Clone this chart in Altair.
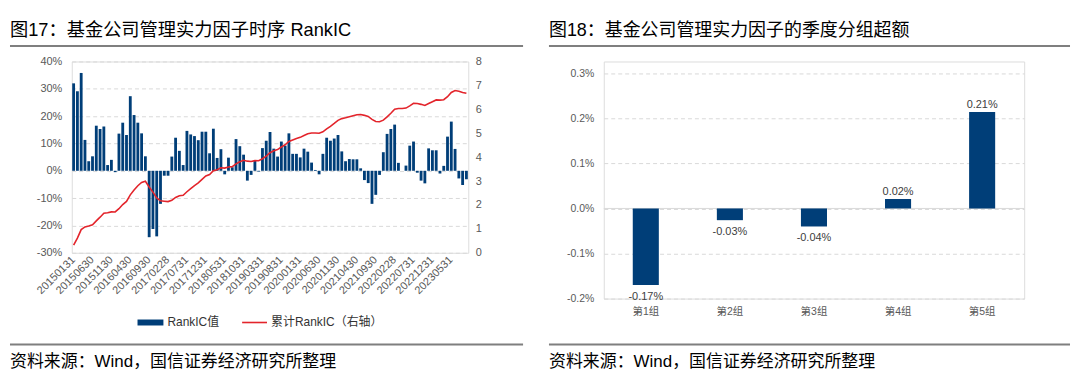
import calendar
import altair as alt
import pandas as pd

# ---------------- data ----------------
months = []
for yy in range(2015, 2024):
    for mm in range(1, 13):
        if (yy, mm) <= (2023, 9):
            months.append(f"{yy}{mm:02d}{calendar.monthrange(yy, mm)[1]:02d}")

rank_ic = [
    32.0, 29.1, 35.8, 11.3, 3.5, 5.3, 16.5, 15.3, 16.2, 2.1, 4.0, -0.5,
    13.6, 17.6, 13.1, 27.3, 20.4, 17.6, 13.7, 5.3, -24.3, -21.3, -24.0, -12.1,
    -1.8, -1.8, 5.2, 12.1, 7.3, 2.1, 14.6, 13.3, 12.7, 11.2, 14.3, 14.3,
    6.4, 15.4, 4.7, 7.9, -1.3, 4.8, 1.3, 11.6, 9.0, 5.9, -3.6, -1.5,
    3.6, -0.3, 8.3, 11.0, 14.2, 8.1, 5.2, 10.7, 9.2, 13.7, 6.2, 6.2,
    4.9, 8.1, 7.0, 3.0, 0.3, -1.3, 6.2, 12.1, 11.0, 11.8, 13.1, 7.1,
    3.5, 4.3, 4.2, 4.2, 0.9, -3.4, -4.5, -12.1, -8.8, -1.5, 6.8, 13.5,
    15.3, 16.9, 2.9, 0.0, 1.9, 9.2, 10.7, -0.7, -3.6, -4.6, 8.2, 7.5,
    7.5, -1.0, 1.8, 12.5, 18.0, 8.0, -2.8, -5.2, -3.1,
]  # percent

groups = ["第1组", "第2组", "第3组", "第4组", "第5组"]
excess = [-0.170, -0.026, -0.040, 0.021, 0.214]  # percent

left_ticks = [-0.3, -0.2, -0.1, 0.0, 0.1, 0.2, 0.3, 0.4]
right_ticks = [0, 1, 2, 3, 4, 5, 6, 7, 8]
grp_ticks = [-0.002, -0.001, 0.0, 0.001, 0.002, 0.003]

title_left = "图17：基金公司管理实力因子时序 RankIC"
title_right = "图18：基金公司管理实力因子的季度分组超额"
source_text = "资料来源：Wind，国信证券经济研究所整理"
legend_bar = "RankIC值"
legend_line = "累计RankIC（右轴）"

# ---------------- style ----------------
BLUE = "#003E78"
RED = "#E3242B"
GRAY = "#595959"
GRID = "#D9D9D9"
RULE = "#7F7F7F"
FONT = "Liberation Sans, Arial, Noto Sans CJK SC, sans-serif"

df1 = pd.DataFrame({"date": months, "ic": rank_ic, "idx": list(range(len(months)))})
df2 = pd.DataFrame({"g": groups, "e": excess})
one = pd.DataFrame({"k": [0]})


def deco_text(txt, x, y, size, color="#000000", baseline="middle"):
    return alt.Chart(one).mark_text(
        text=txt, align="left", baseline=baseline, fontSize=size, font=FONT, color=color
    ).encode(x=alt.value(x), y=alt.value(y))


def deco_rule(x1, x2, y, color, width):
    return alt.Chart(one).mark_rule(color=color, strokeWidth=width).encode(
        x=alt.value(x1), x2=alt.value(x2), y=alt.value(y)
    )


def hy(fmt):
    return f"replace(format(datum.value, '{fmt}'), '\u2212', '-')"


# ---------------- left panel ----------------
W1, H1 = 398, 192
base1 = alt.Chart(df1).transform_calculate(v="datum.ic / 100")

bars1 = base1.mark_bar(color=BLUE).encode(
    x=alt.X(
        "date:N", sort=None, title=None,
        scale=alt.Scale(paddingInner=0.25, paddingOuter=0.12),
        axis=alt.Axis(values=months[::5], labelAngle=-45, labelAlign="right",
                      labelBaseline="middle", labelPadding=5, labelFontSize=11,
                      labelColor=GRAY, labelFont=FONT, domain=False, ticks=False,
                      grid=False, labelOverlap=False),
    ),
    y=alt.Y(
        "v:Q", title=None,
        scale=alt.Scale(domain=[-0.3, 0.4], nice=False, zero=False),
        axis=alt.Axis(labelExpr=hy(".0%"), values=left_ticks, grid=True, gridDash=[4, 3],
                      gridColor=GRID, domain=False, ticks=False, labelPadding=10,
                      labelFontSize=11, labelColor=GRAY, labelFont=FONT),
    ),
)

line1 = base1.transform_window(
    cum="sum(v)", sort=[alt.SortField("idx")], frame=[None, 0]
).mark_line(color=RED, strokeWidth=1.6).encode(
    x=alt.X("date:N", sort=None),
    y=alt.Y(
        "cum:Q", title=None,
        scale=alt.Scale(domain=[0, 8], nice=False, zero=False),
        axis=alt.Axis(orient="right", values=right_ticks, format="d", grid=False,
                      domain=False, ticks=False, labelPadding=7, labelFontSize=11,
                      labelColor=GRAY, labelFont=FONT),
    ),
)

left_inner = alt.layer(
    bars1,
    deco_text(title_left, -62, -40, 18.3, baseline="top"),
    deco_rule(-62, 453, -15.5, RULE, 2),
    deco_rule(-62, 453, 284, RULE, 2),
    deco_text(source_text, -62, 302, 17),
    deco_rule(66, 92, 262, BLUE, 6),
    deco_text(legend_bar, 96, 262, 12, color="#333333"),
    deco_rule(171, 196, 262, RED, 1.6),
    deco_text(legend_line, 200, 262, 12, color="#333333"),
)

left = alt.layer(left_inner, line1).resolve_scale(y="independent").properties(
    width=W1, height=H1
)

# ---------------- right panel ----------------
W2, H2 = 422, 238
base2 = alt.Chart(df2).transform_calculate(
    v="datum.e / 100",
    lab="replace(format(datum.e / 100, '.2%'), '\u2212', '-')",
)
xenc = alt.X(
    "g:N", sort=None, title=None,
    scale=alt.Scale(paddingInner=0.69, paddingOuter=0.345),
    axis=alt.Axis(labelAngle=0, labelPadding=8, labelFontSize=10.5, labelColor=GRAY,
                  labelFont=FONT, domain=False, ticks=False, grid=False),
)
yenc = alt.Y(
    "v:Q", title=None,
    scale=alt.Scale(domain=[-0.002, 0.003], nice=False, zero=False, range=[238, 11.8]),
    axis=alt.Axis(labelExpr=hy(".1%"), values=grp_ticks, grid=True, gridDash=[4, 3],
                  gridColor=GRID, domain=False, ticks=False, labelPadding=10,
                  labelFontSize=10.5, labelColor=GRAY, labelFont=FONT),
)
bars2 = base2.mark_bar(color=BLUE).encode(x=xenc, y=yenc)
zero2 = alt.Chart(pd.DataFrame({"z": [0.0]})).mark_rule(color=GRID, strokeWidth=1).encode(
    y=alt.Y("z:Q")
)
lab_pos = base2.transform_filter("datum.e >= 0").mark_text(
    baseline="bottom", dy=-2, fontSize=11, font=FONT, color="#404040"
).encode(x=alt.X("g:N", sort=None), y=alt.Y("v:Q"), text="lab:N")
lab_neg = base2.transform_filter("datum.e < 0").mark_text(
    baseline="top", dy=6, fontSize=11, font=FONT, color="#404040"
).encode(x=alt.X("g:N", sort=None), y=alt.Y("v:Q"), text="lab:N")

right = alt.layer(
    zero2, bars2, lab_pos, lab_neg,
    deco_text(title_right, -55, -40, 18, baseline="top"),
    deco_rule(-55, 468, -15.5, RULE, 2),
    deco_rule(-55, 468, 284, RULE, 2),
    deco_text(source_text, -55, 302, 17),
).properties(width=W2, height=H2)

chart = alt.hconcat(left, right, spacing=22).properties(
    padding={"left": 0, "top": 11, "right": 0, "bottom": 0}
).configure_view(stroke=None).configure(font=FONT)

chart.save("out.html", embed_options={"renderer": "svg", "actions": False})
